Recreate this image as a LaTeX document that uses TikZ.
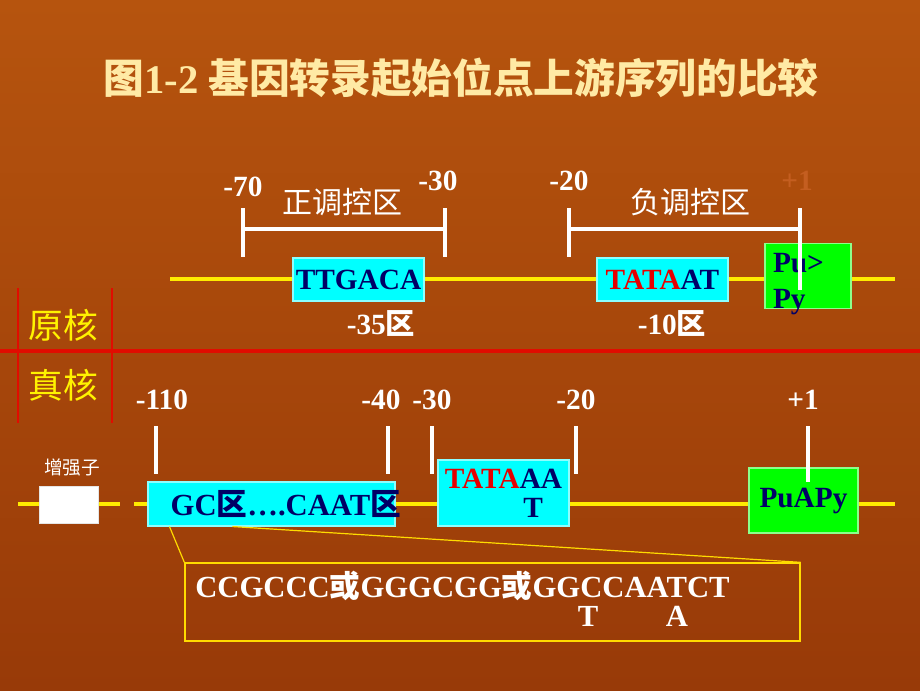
\documentclass[tikz,border=0pt]{standalone}
\usepackage{fontspec}
\setmainfont{Liberation Serif}
\newfontfamily\cjk{Noto Sans CJK SC}
\newcommand\zh[1]{{\cjk #1}}
\definecolor{bgtop}{RGB}{182,84,14}
\definecolor{bgbot}{RGB}{152,58,8}
\definecolor{navy}{RGB}{0,0,102}
\definecolor{titlecol}{RGB}{255,234,165}
\definecolor{dnacol}{RGB}{255,235,0}
\definecolor{splitcol}{RGB}{225,12,0}
\definecolor{dimcol}{RGB}{196,94,32}
\definecolor{boxcyan}{RGB}{0,255,255}
\definecolor{boxgreen}{RGB}{0,255,0}
\definecolor{hotred}{RGB}{230,0,0}
\tikzset{
  num/.style={text=white,font=\fontsize{22}{24}\selectfont\bfseries,anchor=base,inner sep=0pt},
  side/.style={text=yellow,font=\fontsize{26}{28}\selectfont\cjk,anchor=base,inner sep=0pt},
  dna/.style={draw=dnacol,line width=2.6pt},
  tickline/.style={draw=white,line width=2.6pt},
  seqbox/.style={fill=boxcyan,draw=white!55!boxcyan,line width=0.8pt,text=navy,
    font=\fontsize{22}{22}\selectfont\bfseries,inner sep=0pt},
  tssbox/.style={fill=boxgreen,draw=white!55!boxgreen,line width=0.8pt,text=navy,
    font=\fontsize{22}{22}\selectfont\bfseries,inner sep=0pt},
  zoomline/.style={draw=dnacol!85!orange,line width=0.9pt}
}
\begin{document}
\begin{tikzpicture}[x=0.75pt,y=-0.75pt]
\def\px{0.75pt}
\shade[top color=bgtop,bottom color=bgbot] (0,0) rectangle (920,690);
\useasboundingbox (0,0) rectangle (920,690);

% title
\node[text=titlecol,font=\fontsize{30.5}{32}\selectfont\bfseries,inner sep=0pt] (title) at (461,78)
  {\zh{图}1-2 \zh{基因转录起始位点上游序列的比较}};

% row split
\draw[splitcol,line width=2.6pt] (0,351) -- (920,351);
\draw[splitcol,line width=1.1pt] (18,288) -- (18,423);
\draw[splitcol,line width=1.1pt] (112,288) -- (112,423);
\node[side] (pro) at (63,338) {原核};
\node[side] (euk) at (63,398) {真核};

% prokaryote
\draw[dna] (170,279) -- (895,279);
\draw[tickline] (243,208) -- (243,257);
\draw[tickline] (243,229) -- (445,229);
\draw[tickline] (445,208) -- (445,257);
\draw[tickline] (569,208) -- (569,257);
\draw[tickline] (569,229) -- (800,229);
\node[num] (p70) at (243,196) {-70};
\node[num] (p30) at (438,190) {-30};
\node[num] (p20) at (569,190) {-20};
\node[num,text=dimcol] (p1) at (797,190) {+1};
\node[num,font=\fontsize{22.5}{24}\selectfont\cjk] (pos) at (342,213) {正调控区};
\node[num,font=\fontsize{22.5}{24}\selectfont\cjk] (neg) at (690,213) {负调控区};
\node[seqbox,minimum width=131*\px,minimum height=43*\px] (ttgaca) at (358.5,279.5) {TTGACA};
\node[seqbox,minimum width=131*\px,minimum height=43*\px] (tataat) at (662.5,279.5)
  {\textcolor{hotred}{TATA}AT};
\node[tssbox,text width=70*\px,inner xsep=8*\px,inner ysep=0.5*\px,align=left,
  text height=28*\px,text depth=36*\px,
  font=\fontsize{22}{27}\selectfont\bfseries] (pupy) at (808,276) {Pu>\\Py};
\draw[tickline] (800,208) -- (800,290);
\node[num] (m35) at (381,334) {-35\zh{区}};
\node[num] (m10) at (672,334) {-10\zh{区}};

% eukaryote
\draw[dna] (18,504) -- (120,504);
\draw[dna] (134,504) -- (895,504);
\draw[tickline] (156,426) -- (156,474);
\draw[tickline] (388,426) -- (388,474);
\draw[tickline] (432,426) -- (432,474);
\draw[tickline] (576,426) -- (576,474);
\node[num] (e110) at (162,409) {-110};
\node[num] (e40) at (381,409) {-40};
\node[num] (e30) at (432,409) {-30};
\node[num] (e20) at (576,409) {-20};
\node[num] (e1) at (803,409) {+1};
\node[num,font=\fontsize{14}{16}\selectfont\cjk] (enhlbl) at (72,474) {增强子};
\node[fill=white,draw=white!80!gray,minimum width=59*\px,minimum height=37*\px] (enh) at (68.5,504.5) {};
\node[seqbox,text width=247*\px,minimum height=44*\px,align=left,
  font=\fontsize{23}{23}\selectfont\bfseries] (gc) at (271.5,504) {\hspace*{17pt}GC\zh{区}….CAAT\zh{区}};
\node[seqbox,minimum width=131*\px,minimum height=66*\px,align=left] (tata) at (503.5,493)
  {\textcolor{hotred}{TATA}AA\\\hspace*{2.68em}T};
\node[tssbox,minimum width=109*\px,minimum height=65*\px] (puapy) at (803.5,500.5) {PuAPy};
\draw[tickline] (808,426) -- (808,482);

% consensus box
\node[draw=dnacol!85!orange,line width=1pt,minimum width=615*\px,minimum height=78*\px] (seq) at (492.5,602) {};
\node[text=white,font=\fontsize{23}{24}\selectfont\bfseries,anchor=base west,inner sep=0pt] (cons) at (195,597)
  {CCGCCC\zh{或}GGGCGG\zh{或}GGCCAATCT};
\node[num,font=\fontsize{23}{24}\selectfont\bfseries] (altT) at (588,626) {T};
\node[num,font=\fontsize{23}{24}\selectfont\bfseries] (altA) at (677,626) {A};
\draw[zoomline] ([xshift=22*\px]gc.south west) -- (seq.north west);
\draw[zoomline] ([xshift=85*\px]gc.south west) -- (seq.north east);
\end{tikzpicture}
\end{document}
